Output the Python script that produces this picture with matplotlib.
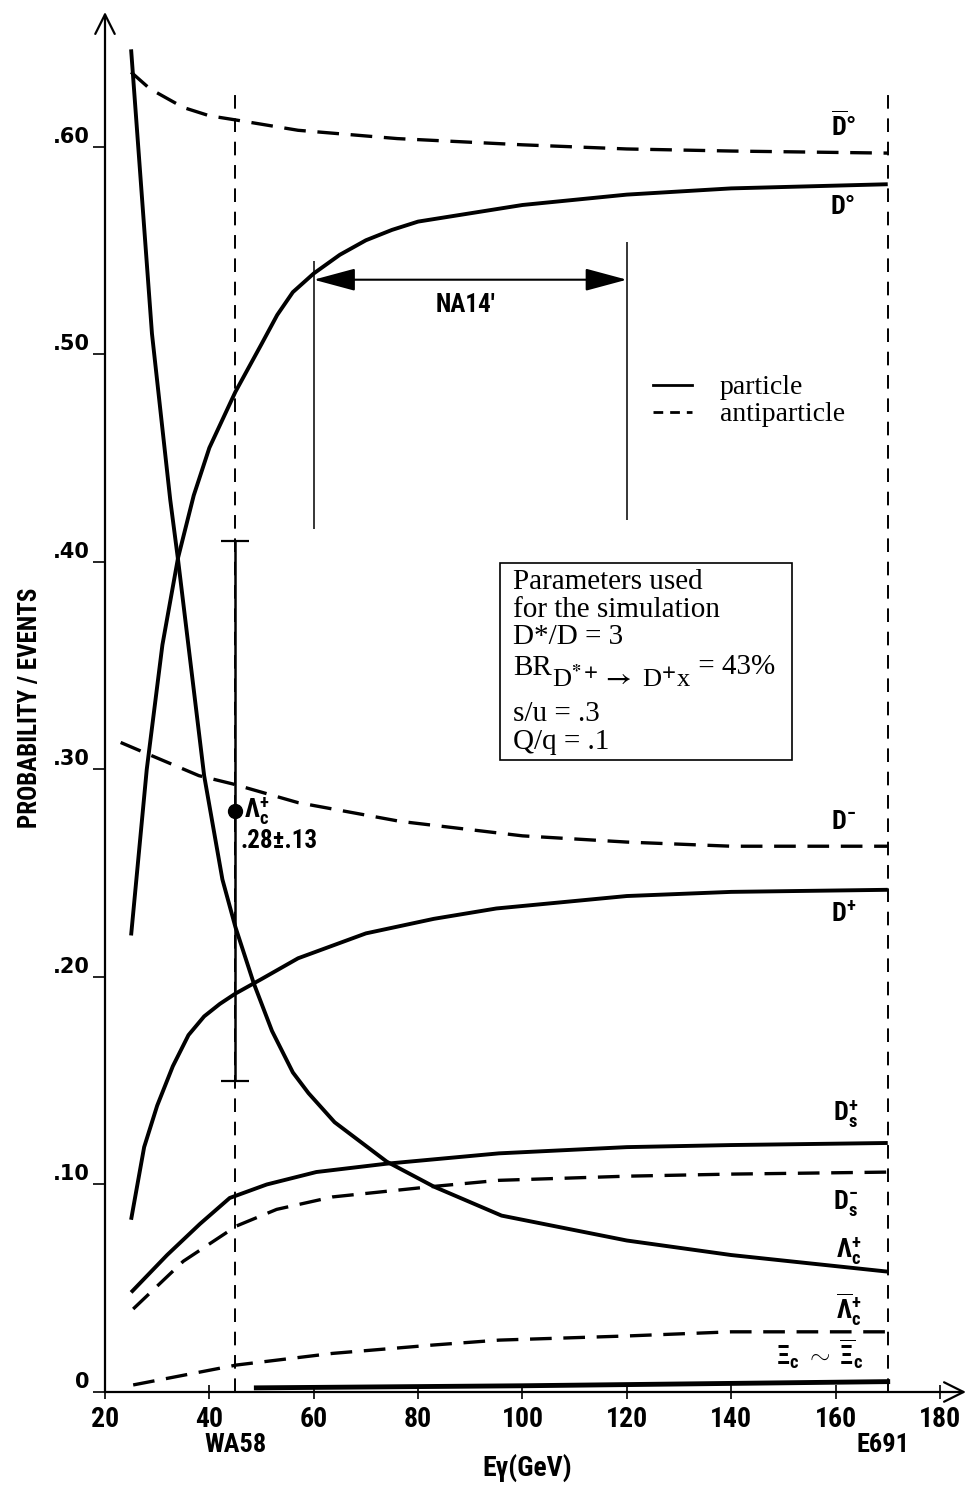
import matplotlib
matplotlib.use("Agg")
import matplotlib.pyplot as plt
from matplotlib import font_manager
from matplotlib.lines import Line2D
from matplotlib.patches import Rectangle

# ---- data (E_gamma in GeV, probability) ----
d0bar_x = [25, 28.6, 35, 40, 45, 57, 76, 100, 120, 140, 170]
d0bar_y = [0.636, 0.628, 0.619, 0.615, 0.613, 0.608, 0.604, 0.601, 0.599, 0.598, 0.597]

d0_x = [25, 28, 31, 34, 37, 40, 45, 50, 53, 56, 60, 65, 70, 75, 80, 90, 100, 120, 140, 170]
d0_y = [0.220, 0.300, 0.360, 0.402, 0.432, 0.455, 0.482, 0.505, 0.519, 0.530, 0.539, 0.548,
        0.555, 0.560, 0.564, 0.568, 0.572, 0.577, 0.580, 0.582]

dminus_x = [23, 28.6, 38, 44.5, 57, 76.5, 100, 120, 140, 170]
dminus_y = [0.313, 0.307, 0.297, 0.293, 0.284, 0.275, 0.268, 0.265, 0.263, 0.263]

dplus_x = [25, 27.5, 30, 33, 36, 39, 42, 45, 50, 57, 70, 83, 95, 120, 140, 170]
dplus_y = [0.083, 0.118, 0.138, 0.157, 0.172, 0.181, 0.187, 0.192, 0.199, 0.209, 0.221,
           0.228, 0.233, 0.239, 0.241, 0.242]

dsplus_x = [25, 31.9, 38.2, 43.9, 51, 60.5, 73.9, 95.5, 120, 140, 170]
dsplus_y = [0.048, 0.066, 0.081, 0.0935, 0.100, 0.106, 0.110, 0.115, 0.118, 0.119, 0.120]

dsminus_x = [25.4, 35, 45.2, 52.9, 63.6, 82.7, 95.5, 120, 140, 171]
dsminus_y = [0.040, 0.063, 0.080, 0.088, 0.094, 0.099, 0.102, 0.104, 0.105, 0.106]

lc_x = [25, 29, 32.5, 34, 39, 42.5, 45, 48.5, 52, 56, 59, 64, 74, 83, 96, 120, 140, 170]
lc_y = [0.647, 0.510, 0.430, 0.401, 0.297, 0.247, 0.224, 0.197, 0.174, 0.154, 0.144,
        0.130, 0.111, 0.099, 0.085, 0.073, 0.066, 0.058]

lcbar_x = [25.4, 45.2, 63.6, 82.7, 95.5, 120, 140, 170]
lcbar_y = [0.0034, 0.013, 0.0186, 0.0226, 0.025, 0.027, 0.029, 0.029]

xic_x = [49, 100, 170]
xic_y = [0.002, 0.003, 0.005]

# WA58 measurement of Lambda_c
wa58_x = 45
lc_meas = 0.28
lc_err = 0.13

e691_x = 170
na14_lo, na14_hi = 60, 120

x_ticks = [20, 40, 60, 80, 100, 120, 140, 160, 180]
y_ticks = [0, 0.1, 0.2, 0.3, 0.4, 0.5, 0.6]
y_ticklabels = ["0", ".10", ".20", ".30", ".40", ".50", ".60"]

# ---- fonts ----
names = {f.name for f in font_manager.fontManager.ttflist}
sans = "DejaVu Sans"
for cand in ["Liberation Sans Narrow", "Roboto Condensed", "Open Sans Condensed"]:
    if cand in names:
        sans = cand
        break
serif = "Liberation Serif" if "Liberation Serif" in names else "DejaVu Serif"

plt.rcParams["font.family"] = [sans, "DejaVu Sans"]
plt.rcParams["font.stretch"] = "condensed"
plt.rcParams["font.weight"] = "bold"
plt.rcParams["mathtext.fontset"] = "custom"
plt.rcParams["mathtext.rm"] = sans + ":bold"
plt.rcParams["mathtext.it"] = sans + ":bold"
plt.rcParams["mathtext.bf"] = sans + ":bold"

fig = plt.figure(figsize=(9.7, 14.85), dpi=100)
ax = fig.add_axes([105 / 970, 93 / 1485, 861 / 970, 1380 / 1485])
ax.set_xlim(20, 185)
ax.set_ylim(0, 0.665)

solid = dict(color="k", lw=2.8, solid_capstyle="butt", solid_joinstyle="round")
dashed = dict(color="k", lw=2.4, ls=(0, (6.5, 3.5)))

ax.plot(d0bar_x, d0bar_y, **dashed)
ax.plot(d0_x, d0_y, **solid)
ax.plot(dminus_x, dminus_y, **dashed)
ax.plot(dplus_x, dplus_y, **solid)
ax.plot(dsplus_x, dsplus_y, **solid)
ax.plot(dsminus_x, dsminus_y, **dashed)
ax.plot(lc_x, lc_y, **solid)
ax.plot(lcbar_x, lcbar_y, **dashed)
ax.plot(xic_x, xic_y, color="k", lw=3.5)

# experiment markers
ax.vlines([wa58_x, e691_x], 0, 0.628, colors="k", lw=1.4, linestyles=[(0, (7, 5))])
ax.vlines([na14_lo], 0.416, 0.545, colors="k", lw=1.1)
ax.vlines([na14_hi], 0.420, 0.554, colors="k", lw=1.1)
ax.annotate("", xy=(na14_lo, 0.536), xytext=(na14_hi, 0.536),
            arrowprops=dict(arrowstyle="<|-|>,head_length=1.3,head_width=0.35",
                            lw=1.5, color="k", mutation_scale=20, shrinkA=0, shrinkB=0))
ax.text(89, 0.524, "NA14\u2032", ha="center", va="center", fontsize=18)

ax.errorbar([wa58_x], [lc_meas], yerr=[lc_err], fmt="o", color="k", ms=10,
            elinewidth=1.8, capsize=10, capthick=1.6)
ax.text(46.6, 0.2795, r"$\Lambda_{c}^{+}$", fontsize=19, va="center", ha="left")
ax.text(46.0, 0.2655, ".28\u00b1.13", fontsize=18, va="center", ha="left")

# curve labels
lab = dict(fontsize=19, ha="center", va="center")
ax.text(161.5, 0.610, r"$\overline{\mathrm{D}}$°", **lab)
ax.text(161.5, 0.571, "D°", **lab)
ax.text(161.5, 0.2747, r"D$^{-}$", **lab)
ax.text(161.5, 0.230, r"D$^{+}$", **lab)
ax.text(162, 0.1335, r"D$_{s}^{+}$", **lab)
ax.text(162, 0.091, r"D$_{s}^{-}$", **lab)
ax.text(162.5, 0.0675, r"$\Lambda_{c}^{+}$", **lab)
ax.text(162.5, 0.0395, r"$\overline{\Lambda}_{c}^{+}$", **lab)
ax.text(157, 0.0183, r"$\Xi_{c}\ \sim\ \overline{\Xi}_{c}$", **lab)

# parameter box
ax.add_patch(Rectangle((95.7, 0.3046), 55.9, 0.0949, fill=False, lw=1.2, ec="k"))
box = dict(family=serif, weight="normal", stretch="normal", fontsize=21,
           ha="left", math_fontfamily="stix")
ax.text(98.2, 0.3904, "Parameters used", va="center", **box)
ax.text(98.2, 0.3769, "for the simulation", va="center", **box)
ax.text(98.2, 0.3639, "D*/D = 3", va="center", **box)
br = ax.text(98.2, 0.3455, "BR", va="baseline", **box)
sub = ax.annotate(r"D$^{*+}\rightarrow$ D$^{+}$x", xy=(1, 0.3398), xycoords=(br, "data"),
                  va="baseline", family=serif, weight="normal", stretch="normal",
                  fontsize=19, ha="left", math_fontfamily="stix")
ax.annotate(" = 43%", xy=(1, 0.3462), xycoords=(sub, "data"), va="baseline",
            family=serif, weight="normal", stretch="normal", fontsize=21, ha="left")
ax.text(98.2, 0.3267, "s/u = .3", va="center", **box)
ax.text(98.2, 0.3133, "Q/q = .1", va="center", **box)

# legend
handles = [Line2D([], [], color="k", lw=2),
           Line2D([], [], color="k", lw=2, ls=(0, (3.5, 2.5)))]
fig.legend(handles, ["particle", "antiparticle"], loc="upper left",
           bbox_to_anchor=(628 / 970, 1 - 350 / 1485), frameon=False,
           prop=dict(family=serif, size=20, weight="normal"),
           handlelength=1.4, handletextpad=1.0, labelspacing=0.05)

# axes with arrows
for sp in ax.spines.values():
    sp.set_visible(False)
ax.annotate("", xy=(1.0, 0), xytext=(0, 0), xycoords="axes fraction",
            arrowprops=dict(arrowstyle="->", lw=1.6, color="k", mutation_scale=35,
                            shrinkA=0, shrinkB=0))
ax.annotate("", xy=(0, 1.0), xytext=(0, 0), xycoords="axes fraction",
            arrowprops=dict(arrowstyle="->", lw=1.6, color="k", mutation_scale=35,
                            shrinkA=0, shrinkB=0))

ax.set_xticks(x_ticks)
ax.set_xticklabels([str(v) for v in x_ticks])
ax.set_yticks(y_ticks)
ax.set_yticklabels(y_ticklabels)
ax.tick_params(axis="x", direction="inout", length=10, width=1.2, labelsize=20, pad=5)
ax.tick_params(axis="y", direction="out", length=9, width=1.2, labelsize=15, pad=2)
for t in ax.get_yticklabels():
    t.set_verticalalignment("bottom")
    t.set_fontfamily("DejaVu Sans")
    t.set_fontstretch("normal")

ax.text(45, -0.0255, "WA58", ha="center", va="center", fontsize=19)
ax.text(169, -0.0255, "E691", ha="center", va="center", fontsize=19)
ax.text(101, -0.0365, "E\u03b3(GeV)", ha="center", va="center", fontsize=20)
ax.text(-0.087, 0.496, "PROBABILITY / EVENTS", transform=ax.transAxes,
        rotation=90, ha="center", va="center", fontsize=18)

fig.savefig("out.png", dpi=100)
